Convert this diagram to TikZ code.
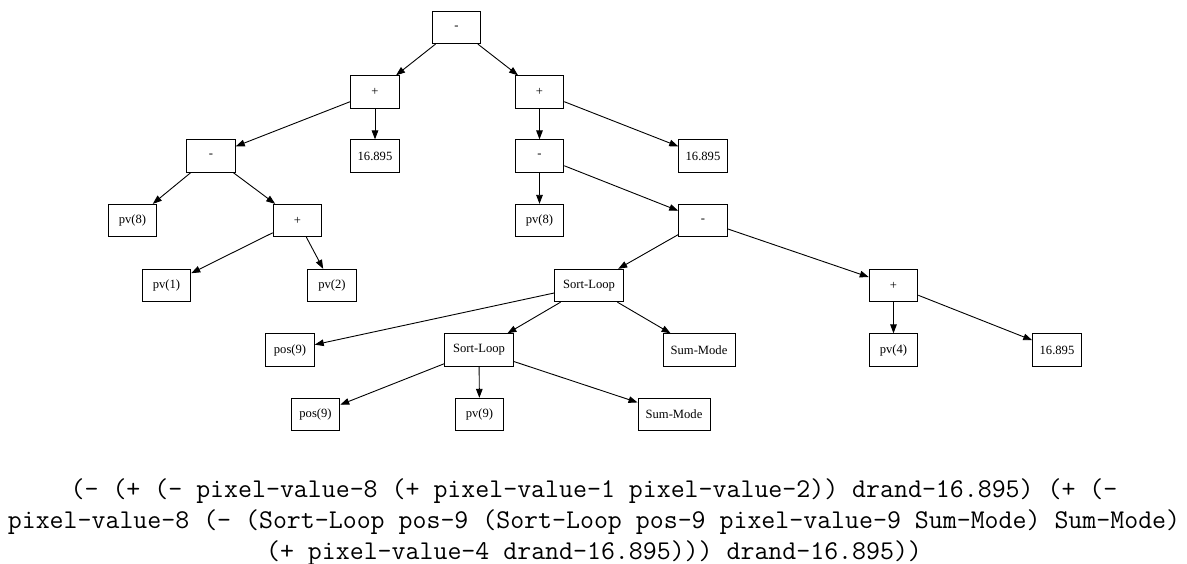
\documentclass[tikz,border=0pt]{standalone}
\usepackage{fontspec}
\setmainfont{Liberation Serif}
\usetikzlibrary{arrows.meta}

\tikzset{
  tn/.style={draw=black, line width=0.9pt, rectangle, inner sep=0pt,
    minimum width=48.6pt, minimum height=32.4pt,
    font=\fontsize{12.6}{14}\selectfont},
  wide/.style={minimum width=68.4pt},
  wider/.style={minimum width=72pt},
  edge/.style={line width=0.9pt, -{Triangle[length=9pt,width=6.6pt]}},
  expr/.style={anchor=base, inner sep=0pt, font=\fontsize{27.1}{30}\ttfamily}
}

\begin{document}
\begin{tikzpicture}[x=1pt,y=-1pt]
\useasboundingbox (0,0) rectangle (1187,564);

% expression tree
\node[tn] (root)   at (456.5,27.5)  {-};
\node[tn] (plusL)  at (375,92)      {+};
\node[tn] (plusR)  at (539.5,92)    {+};
\node[tn] (minusL) at (211,156)     {-};
\node[tn] (numL)   at (375,156)     {16.895};
\node[tn] (minusR) at (539.5,156)   {-};
\node[tn] (numR)   at (703,156)     {16.895};
\node[tn] (pvL)    at (132.5,220.5) {pv(8)};
\node[tn] (plus3)  at (297.5,220.5) {+};
\node[tn] (pvR)    at (539.5,220.5) {pv(8)};
\node[tn] (minus3) at (703,220.5)   {-};
\node[tn] (pv1)    at (166.5,285.5) {pv(1)};
\node[tn] (pv2)    at (332,285.5)   {pv(2)};
\node[tn,wide] (sortA) at (589,285.5) {Sort-Loop};
\node[tn] (plus4)  at (893.5,285.5) {+};
\node[tn] (posA)   at (290,350)     {pos(9)};
\node[tn,wide] (sortB) at (479,350) {Sort-Loop};
\node[tn,wider] (sumA) at (699,350) {Sum-Mode};
\node[tn] (pv4)    at (893.5,350)   {pv(4)};
\node[tn] (num4)   at (1057,350)    {16.895};
\node[tn] (posB)   at (315.5,414.5) {pos(9)};
\node[tn] (pv9)    at (479.5,414.5) {pv(9)};
\node[tn,wider] (sumB) at (674,414.5) {Sum-Mode};

\draw[edge] (root) -- (plusL);
\draw[edge] (root) -- (plusR);
\draw[edge] (plusL) -- (minusL);
\draw[edge] (plusL) -- (numL);
\draw[edge] (minusL) -- (pvL);
\draw[edge] (minusL) -- (plus3);
\draw[edge] (plus3) -- (pv1);
\draw[edge] (plus3) -- (pv2);
\draw[edge] (plusR) -- (minusR);
\draw[edge] (plusR) -- (numR);
\draw[edge] (minusR) -- (pvR);
\draw[edge] (minusR) -- (minus3);
\draw[edge] (minus3) -- (sortA);
\draw[edge] (minus3) -- (plus4);
\draw[edge] (sortA) -- (posA);
\draw[edge] (sortA) -- (sortB);
\draw[edge] (sortA) -- (sumA);
\draw[edge] (sortB) -- (posB);
\draw[edge] (sortB) -- (pv9);
\draw[edge] (sortB) -- (sumB);
\draw[edge] (plus4) -- (pv4);
\draw[edge] (plus4) -- (num4);

% the same tree written as an s-expression
\node[expr] (line1) at (594,497) {(- (+ (- pixel-value-8 (+ pixel-value-1 pixel-value-2)) drand-16.895) (+ (-};
\node[expr] (line2) at (594,528) {pixel-value-8 (- (Sort-Loop pos-9 (Sort-Loop pos-9 pixel-value-9 Sum-Mode) Sum-Mode)};
\node[expr] (line3) at (594,559) {(+ pixel-value-4 drand-16.895))) drand-16.895))};
\end{tikzpicture}
\end{document}
